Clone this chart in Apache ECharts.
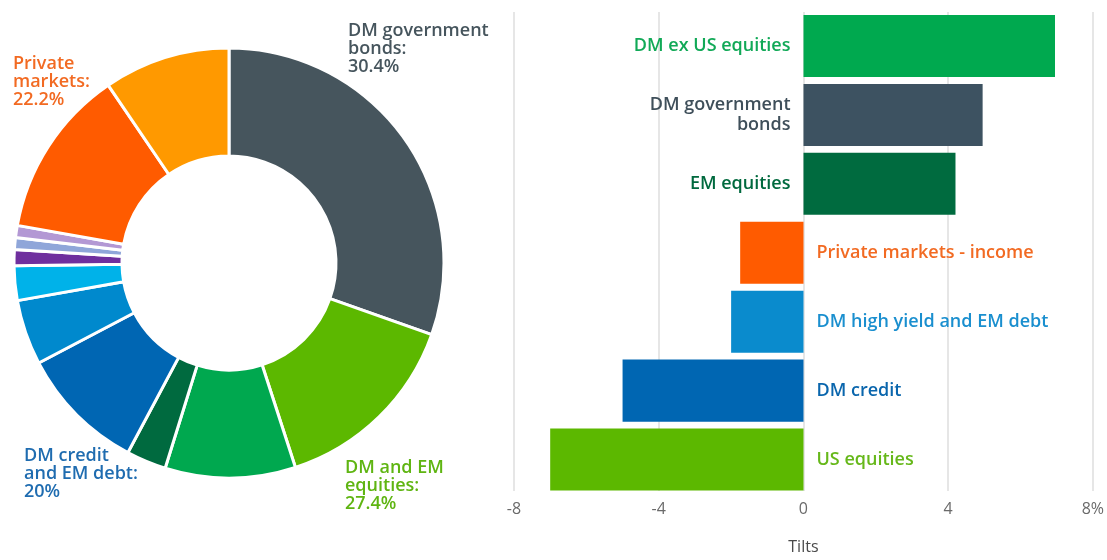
<!DOCTYPE html>
<html>
<head>
<meta charset="utf-8">
<script src="https://cdn.jsdelivr.net/npm/echarts@6/dist/echarts.min.js"></script>
<style>
  html, body { margin: 0; padding: 0; background: #ffffff; }
  #chart { width: 1107px; height: 560px; }
</style>
</head>
<body>
<div id="chart"></div>
<script>
// Strategic allocation: slices run clockwise from 12 o'clock
const sliceNames = [
  'DM government bonds',
  'US equities', 'DM ex US equities', 'EM equities',
  'DM credit', 'DM high yield', 'EM hard currency debt', 'EM local currency debt', 'Securitised credit', 'Other credit',
  'Private markets - income', 'Private markets - growth'
];
const sliceValues = [30.4, 14.6, 9.8, 3.0, 9.5, 4.9, 2.6, 1.2, 0.9, 0.9, 12.7, 9.5];
const sliceGroup = [0, 1, 1, 1, 2, 2, 2, 2, 2, 2, 3, 3];
const groupLabels = ['DM government\nbonds', 'DM and EM\nequities', 'DM credit\nand EM debt', 'Private\nmarkets'];

// Tactical tilts, percentage points
const tiltCategories = [
  'DM ex US equities', 'DM government\nbonds', 'EM equities',
  'Private markets - income', 'DM high yield and EM debt', 'DM credit', 'US equities'
];
const tiltValues = [6.95, 4.95, 4.2, -1.75, -2.0, -5.0, -7.0];
const tiltAxisMin = -8, tiltAxisMax = 8, tiltAxisStep = 4;
const tiltAxisName = 'Tilts';

// palette
const sliceColors = ['#46555d', '#5cb800', '#00a84f', '#006a3f', '#0066b3', '#0089cd', '#00b2e9',
  '#6f2f9e', '#8fa6d9', '#b398d4', '#ff5b00', '#ff9900'];
const groupColors = ['#46555d', '#5fb512', '#1f6cb0', '#f26a22'];
const groupPos = [[348, 22], [345, 459], [24, 447], [13, 55]];
const barColors = ['#00a94f', '#3d5261', '#006b3f', '#ff5b00', '#0a8bcd', '#0066b2', '#5cb800'];
const barLabelColors = ['#11a957', '#3f4f5a', '#00693e', '#f26a22', '#1a8fcf', '#0a66ad', '#66b81a'];

const FONT = '"Open Sans", "Noto Sans", sans-serif';

const groupSums = groupLabels.map((_, g) =>
  sliceValues.reduce((s, v, i) => s + (sliceGroup[i] === g ? v : 0), 0));
const fmtPct = v => Number(v.toFixed(1)) + '%';

const chart = echarts.init(document.getElementById('chart'), null, { renderer: 'canvas' });

chart.setOption({
  animation: false,
  backgroundColor: '#ffffff',
  graphic: groupLabels.map((lbl, g) => ({
    type: 'text',
    left: groupPos[g][0],
    top: groupPos[g][1],
    silent: true,
    style: {
      text: lbl + ':\n' + fmtPct(groupSums[g]),
      fill: groupColors[g],
      fontFamily: FONT,
      fontWeight: 600,
      fontSize: 18,
      lineHeight: 18
    }
  })),
  grid: [
    { left: 514, right: 14, top: 12, bottom: 54 },
    { left: 514, right: 14, top: 11.5, bottom: 66 }
  ],
  xAxis: [
    {
      gridIndex: 0, type: 'value',
      min: tiltAxisMin, max: tiltAxisMax, interval: tiltAxisStep,
      axisLine: { show: false }, axisTick: { show: false },
      splitLine: { show: true, lineStyle: { color: '#dedede', width: 1.5 } },
      axisLabel: {
        color: '#6a6a6a', fontSize: 16, margin: 10, fontFamily: '"Open Sans", sans-serif',
        formatter: v => v === tiltAxisMax ? v + '%' : String(v)
      },
      name: tiltAxisName, nameLocation: 'middle', nameGap: 48,
      nameTextStyle: { color: '#4a4a4a', fontSize: 16, fontFamily: '"Open Sans", sans-serif' }
    },
    {
      gridIndex: 1, type: 'value',
      min: tiltAxisMin, max: tiltAxisMax, interval: tiltAxisStep,
      show: false, splitLine: { show: false }
    }
  ],
  yAxis: [
    { gridIndex: 0, type: 'value', show: false, splitLine: { show: false } },
    {
      gridIndex: 1, type: 'category', data: tiltCategories, inverse: true,
      show: false, splitLine: { show: false }
    }
  ],
  series: [
    {
      type: 'pie',
      center: [229, 263],
      radius: [107, 215],
      startAngle: 90,
      clockwise: true,
      silent: true,
      label: { show: false },
      labelLine: { show: false },
      itemStyle: { borderColor: '#ffffff', borderWidth: 3 },
      data: sliceValues.map((v, i) => ({ name: sliceNames[i], value: v, itemStyle: { color: sliceColors[i] } }))
    },
    {
      type: 'bar',
      xAxisIndex: 1,
      yAxisIndex: 1,
      barCategoryGap: '10%',
      silent: true,
      label: {
        show: true,
        distance: 13,
        fontFamily: FONT,
        fontWeight: 600,
        fontSize: 18,
        lineHeight: 20,
        formatter: p => tiltCategories[p.dataIndex]
      },
      data: tiltValues.map((v, i) => ({
        value: v,
        itemStyle: { color: barColors[i] },
        label: { position: v >= 0 ? 'left' : 'right', color: barLabelColors[i] }
      }))
    }
  ]
});
</script>
</body>
</html>
